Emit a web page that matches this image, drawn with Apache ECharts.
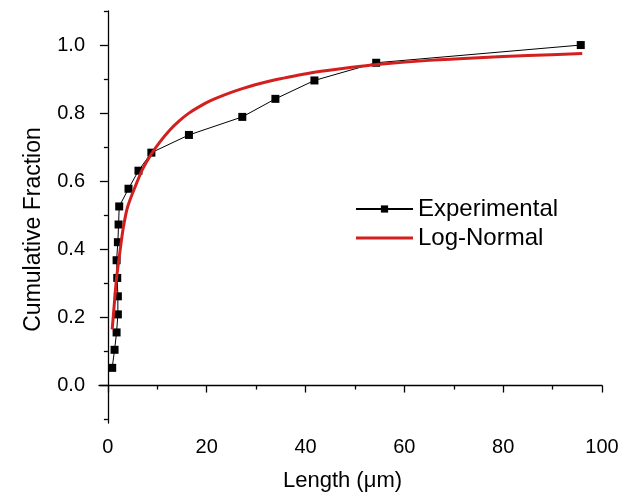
<!DOCTYPE html>
<html>
<head>
<meta charset="utf-8">
<script src="https://cdn.jsdelivr.net/npm/echarts@6/dist/echarts.min.js"></script>
<style>html,body{margin:0;padding:0;background:#fff}#c{width:627px;height:497px}</style>
</head>
<body>
<div id="c"></div>
<script>
// Experimental cumulative fraction
const expLength = [0.87, 1.35, 1.76, 2.02, 2.02, 1.89, 1.76, 2.02, 2.16, 2.29, 4.17, 6.19, 8.8, 16.4, 27.2, 33.9, 41.8, 54.3, 95.7];
const expFraction = [0.052, 0.105, 0.156, 0.209, 0.262, 0.316, 0.368, 0.421, 0.473, 0.526, 0.578, 0.631, 0.684, 0.736, 0.789, 0.842, 0.896, 0.948, 1.0];
// Log-normal fit curve
const fitLength = [0.87, 1.3, 1.76, 2.5, 3.1, 4.0, 5.8, 7.0, 8.8, 10.5, 12.5, 14.5, 16.4, 18.6, 21, 24, 27.2, 30, 33.9, 38, 41.8, 49, 54.4, 65, 75, 85, 96];
const fitFraction = [0.165, 0.24, 0.316, 0.40, 0.462, 0.525, 0.594, 0.635, 0.68, 0.715, 0.75, 0.778, 0.80, 0.82, 0.838, 0.856, 0.872, 0.884, 0.898, 0.91, 0.92, 0.934, 0.943, 0.955, 0.963, 0.969, 0.975];
// Axis ticks
const xMajor = [0, 20, 40, 60, 80, 100];
const xMinor = [10, 30, 50, 70, 90];
const yMajor = [0, 0.2, 0.4, 0.6, 0.8, 1.0];
const yMinor = [-0.1, 0.1, 0.3, 0.5, 0.7, 0.9, 1.1];
const seriesNames = ['Experimental', 'Log-Normal'];

const FONT = 'Liberation Sans, Arial, sans-serif';
const RED = '#d41f1f';
const expData = expLength.map((x, i) => [x, expFraction[i]]);
const fitData = fitLength.map((x, i) => [x, fitFraction[i]]);

const chart = echarts.init(document.getElementById('c'), null, {renderer: 'canvas'});
const axisLine = {show: true, lineStyle: {color: '#000', width: 1.3}};
chart.setOption({
  animation: false,
  backgroundColor: '#fff',
  grid: {left: 99, right: 25, top: 11, bottom: 73.5, containLabel: false},
  legend: {
    orient: 'vertical', left: 355, top: 197, padding: 0, itemWidth: 57, itemHeight: 9, itemGap: 5,
    textStyle: {fontFamily: FONT, fontSize: 24, color: '#000'},
    data: [
      {name: seriesNames[0]},
      {name: seriesNames[1], icon: 'path://M0,0H0.01V0.01H0Z M0,3H57V6H0Z M0,8.99H0.01V9H0Z'}
    ]
  },
  xAxis: [{
    type: 'value', min: -1.8, max: 100, position: 'bottom',
    name: 'Length (μm)', nameLocation: 'middle', nameGap: 47,
    nameTextStyle: {fontFamily: FONT, fontSize: 22, color: '#000', padding: [0, 16, 0, 0]},
    axisLine: axisLine,
    axisTick: {show: true, inside: false, length: 7, customValues: xMajor, lineStyle: {color: '#000', width: 1.3}},
    axisLabel: {show: true, customValues: xMajor, margin: 14, fontFamily: FONT, fontSize: 20, color: '#000'},
    splitLine: {show: false}
  }, {
    type: 'value', min: -1.8, max: 100, position: 'bottom', offset: 0,
    axisLine: {show: false},
    axisTick: {show: true, length: 4, customValues: xMinor, lineStyle: {color: '#000', width: 1.3}},
    axisLabel: {show: false}, splitLine: {show: false}
  }],
  yAxis: [{
    type: 'value', min: -0.11, max: 1.1, position: 'left',
    name: 'Cumulative Fraction', nameLocation: 'middle', nameGap: 54, nameRotate: 90,
    nameTextStyle: {fontFamily: FONT, fontSize: 23, color: '#000', padding: [0, 25, 0, 0]},
    axisLine: axisLine,
    axisTick: {show: true, inside: false, length: 8, customValues: yMajor, lineStyle: {color: '#000', width: 1.3}},
    axisLabel: {show: true, customValues: yMajor, margin: 14, fontFamily: FONT, fontSize: 20, color: '#000',
      formatter: v => v.toFixed(1)},
    splitLine: {show: false}
  }, {
    type: 'value', min: -0.11, max: 1.1, position: 'left', offset: 0,
    axisLine: {show: false},
    axisTick: {show: true, length: 4, customValues: yMinor, lineStyle: {color: '#000', width: 1.3}},
    axisLabel: {show: false}, splitLine: {show: false}
  }],
  series: [{
    name: seriesNames[0], type: 'line', xAxisIndex: 0, yAxisIndex: 0,
    data: expData, symbol: 'rect', symbolSize: 8,
    lineStyle: {color: '#000', width: 1},
    itemStyle: {color: '#000'}, z: 2
  }, {
    name: seriesNames[1], type: 'line', xAxisIndex: 0, yAxisIndex: 0,
    data: fitData, symbol: 'none', smooth: 0.3,
    lineStyle: {color: RED, width: 3},
    itemStyle: {color: RED}, z: 3
  }]
});
</script>
</body>
</html>
